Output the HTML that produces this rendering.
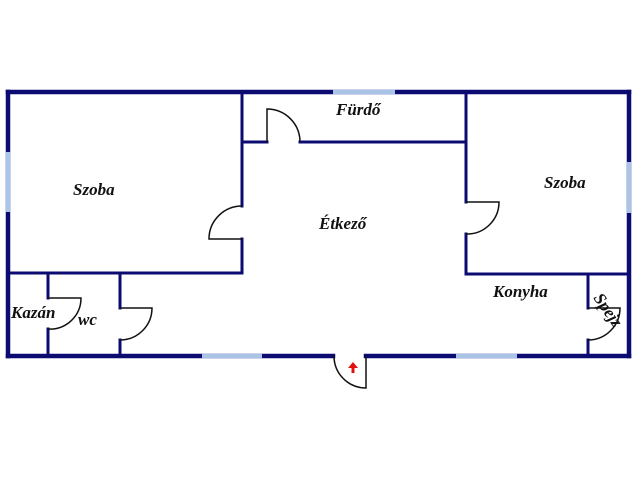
<!DOCTYPE html>
<html><head><style>
html,body{margin:0;padding:0;background:#fff;}
svg{display:block;}
text{font-family:"Liberation Serif",serif;font-style:italic;font-weight:bold;font-size:17px;fill:#111;}
</style></head><body>
<svg width="640" height="480" viewBox="0 0 640 480" xmlns="http://www.w3.org/2000/svg">
<g stroke="#0b0b72" stroke-linecap="square" fill="none">
  <g stroke-width="4.5">
    <line x1="8" y1="92" x2="629" y2="92"/>
    <line x1="8" y1="92" x2="8" y2="356"/>
    <line x1="629" y1="92" x2="629" y2="356"/>
    <line x1="8" y1="356" x2="333" y2="356"/>
    <line x1="366" y1="356" x2="629" y2="356"/>
  </g>
  <g stroke-width="3">
    <line x1="242" y1="92" x2="242" y2="206"/>
    <line x1="242" y1="239" x2="242" y2="273"/>
    <line x1="8" y1="273" x2="242" y2="273"/>
    <line x1="242" y1="142" x2="267" y2="142"/>
    <line x1="300" y1="142" x2="466" y2="142"/>
    <line x1="466" y1="92" x2="466" y2="202"/>
    <line x1="466" y1="234" x2="466" y2="274"/>
    <line x1="466" y1="274" x2="629" y2="274"/>
    <line x1="48" y1="273" x2="48" y2="298"/>
    <line x1="48" y1="329" x2="48" y2="356"/>
    <line x1="120" y1="273" x2="120" y2="308"/>
    <line x1="120" y1="340" x2="120" y2="356"/>
    <line x1="588" y1="274" x2="588" y2="308"/>
    <line x1="588" y1="340" x2="588" y2="356"/>
  </g>
</g>
<g stroke="#a9c4e6" stroke-width="4.5">
  <line x1="8" y1="152" x2="8" y2="212"/>
  <line x1="333" y1="92" x2="395" y2="92"/>
  <line x1="629" y1="162" x2="629" y2="213"/>
  <line x1="202" y1="356" x2="262" y2="356"/>
  <line x1="456" y1="356" x2="517" y2="356"/>
</g>
<g stroke="#111" stroke-width="1.5" fill="none">
  <path d="M242 239 H209 A33 33 0 0 1 242 206"/>
  <path d="M267 142 V109 A33 33 0 0 1 300 142"/>
  <path d="M466 202 H499 A32 32 0 0 1 466 234"/>
  <path d="M48 298 H81 A31 31 0 0 1 48 329"/>
  <path d="M120 308 H152 A32 32 0 0 1 120 340"/>
  <path d="M588 308 H620 A32 32 0 0 1 588 340"/>
  <path d="M366 356 V388 A32 32 0 0 1 334 356"/>
</g>
<g fill="#e01010">
  <polygon points="353,362 348,368 351.5,368 351.5,373 354.5,373 354.5,368 358,368"/>
</g>
<text x="73" y="195">Szoba</text>
<text x="336" y="115">Fürdő</text>
<text x="319" y="229">Étkező</text>
<text x="544" y="188">Szoba</text>
<text x="493" y="297">Konyha</text>
<text x="11" y="318">Kazán</text>
<text x="78" y="325">wc</text>
<text x="0" y="0" transform="translate(593,298) rotate(55)" font-size="15">Spejz</text>
</svg>
</body></html>
